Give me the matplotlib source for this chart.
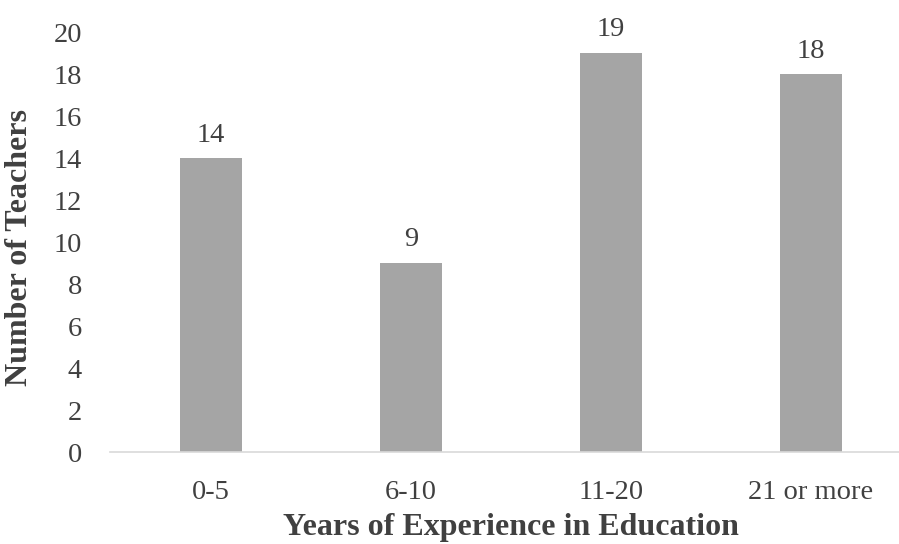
import matplotlib.pyplot as plt

categories = ['0-5', '6-10', '11-20', '21 or more']
teachers = [14, 9, 19, 18]
y_ticks = list(range(0, 21, 2))

plt.rcParams['font.family'] = ['Liberation Serif', 'DejaVu Serif']
text_color = '#404040'

fig = plt.figure(figsize=(8.99, 5.44), dpi=100)
ax = fig.add_axes([110 / 899, 1 - 452 / 544, 1 - 110 / 899, (452 - 32) / 544])

x = range(len(categories))
bars = ax.bar(x, teachers, width=0.31, color='#A5A5A5')

for b, v in zip(bars, teachers):
    ax.text(b.get_x() + b.get_width() / 2, v + 0.5, str(v), ha='center', va='bottom',
            fontsize=20.5, color=text_color, clip_on=False)

ax.set_xlim(-0.505, 3.44)
ax.set_ylim(0, 20)
ax.set_yticks(y_ticks)
ax.set_xticks(list(x))
ax.set_xticklabels(categories)
ax.tick_params(axis='both', length=0, labelsize=20.5, labelcolor=text_color)
ax.tick_params(axis='y', pad=20)
ax.tick_params(axis='x', pad=20)

for side in ['top', 'right', 'left']:
    ax.spines[side].set_visible(False)
ax.spines['bottom'].set_color('#D9D9D9')
ax.spines['bottom'].set_linewidth(1.2)

ax.set_xlabel('Years of Experience in Education', fontsize=23, fontweight='bold',
              color=text_color, va='center')
ax.set_ylabel('Number of Teachers', fontsize=23, fontweight='bold', color=text_color,
              va='center')
ax.xaxis.set_label_coords((511 - 110) / (899 - 110), -(528 - 452) / (452 - 32))
ax.yaxis.set_label_coords(-(110 - 20) / (899 - 110), (452 - 248) / (452 - 32))

fig.savefig('out.png', dpi=100)
